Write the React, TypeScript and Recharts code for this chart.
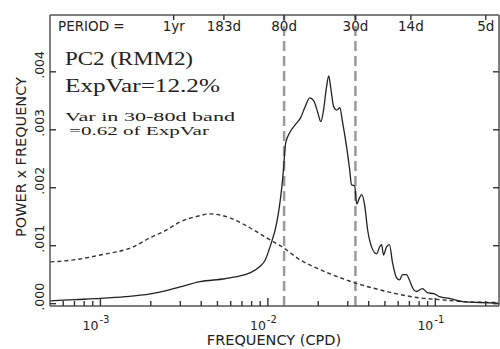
import React from 'react';
import { LineChart, Line, XAxis, YAxis, ReferenceLine } from 'recharts';

// PC2 spectrum (solid) and red-noise background (dashed), power x frequency
const pcFreq = [0.000503, 0.00071, 0.001, 0.00141, 0.00199, 0.00244, 0.00299, 0.00394, 0.00554, 0.00681, 0.00781, 0.00896, 0.00959, 0.0103, 0.0113, 0.0117, 0.01227, 0.01279, 0.0135, 0.01469, 0.0157, 0.0166, 0.0178, 0.0188, 0.0199, 0.0207, 0.0215, 0.0224, 0.0231, 0.0237, 0.0247, 0.0258, 0.0269, 0.0279, 0.0295, 0.0308, 0.0316, 0.033, 0.0339, 0.0353, 0.0363, 0.0378, 0.0394, 0.0416, 0.0446, 0.0465, 0.0478, 0.049, 0.0511, 0.0532, 0.0555, 0.0586, 0.0611, 0.0637, 0.0672, 0.07, 0.073, 0.0771, 0.0837, 0.0896, 0.0987, 0.106, 0.121, 0.149, 0.183, 0.237];
const pcPower = [0.00005, 0.00007, 0.00009, 0.00012, 0.00017, 0.00022, 0.00029, 0.00038, 0.00043, 0.00048, 0.00053, 0.00064, 0.00074, 0.00098, 0.0014, 0.00166, 0.00217, 0.00278, 0.00295, 0.0031, 0.00321, 0.00338, 0.00355, 0.0035, 0.00329, 0.00314, 0.00334, 0.00374, 0.00393, 0.00374, 0.0034, 0.00334, 0.00338, 0.00314, 0.00271, 0.00231, 0.00205, 0.00203, 0.00172, 0.00183, 0.00188, 0.00171, 0.00128, 0.00098, 0.00086, 0.00098, 0.00102, 0.00084, 0.00098, 0.00102, 0.00071, 0.00045, 0.00041, 0.0005, 0.0005, 0.00041, 0.00028, 0.00021, 0.00026, 0.00019, 0.00017, 0.00012, 0.00009, 0.00003, 0.00002, 0.00001];

const redFreq = [0.000503, 0.00071, 0.001, 0.00157, 0.00199, 0.00244, 0.00299, 0.00394, 0.00452, 0.00518, 0.00594, 0.00781, 0.0103, 0.0123, 0.0155, 0.0204, 0.0269, 0.033, 0.0465, 0.0611, 0.0804, 0.106, 0.159, 0.237];
const redPower = [0.00072, 0.00076, 0.00084, 0.00098, 0.00114, 0.00126, 0.00141, 0.00152, 0.00155, 0.00153, 0.00148, 0.00131, 0.0011, 0.00097, 0.00076, 0.00059, 0.00045, 0.00036, 0.00024, 0.00016, 0.0001, 0.00007, 0.00003, 0.00002];

const freqTicks = [0.0006, 0.0007, 0.0008, 0.0009, 0.001, 0.002, 0.003, 0.004, 0.005, 0.006, 0.007, 0.008, 0.009, 0.01, 0.02, 0.03, 0.04, 0.05, 0.06, 0.07, 0.08, 0.09, 0.1, 0.2];
const decadeTicks = [0.001, 0.01, 0.1];
const decadeExps = ['-3', '-2', '-1'];
const periodDays = [365, 183, 80, 30, 14, 5];
const periodLabels = ['1yr', '183d', '80d', '30d', '14d', '5d'];
const bandDays = [80, 30];
const powerTicks = [0, 0.001, 0.002, 0.003, 0.004];
const powerLabels = ['.000', '.001', '.002', '.003', '.004'];

const pcData = pcFreq.map((f, i) => ({ f, p: pcPower[i] }));
const redData = redFreq.map((f, i) => ({ f, p: redPower[i] }));
const periodTicks = periodDays.map((d) => 1 / d);

const FONT = '"DejaVu Sans", sans-serif';
const SERIF = '"Liberation Serif", "Times New Roman", serif';
const INK = '#222';
const FRAME = '#555';
const F_DOMAIN = [0.0005, 0.24];
const P_DOMAIN = [-0.00004, 0.00498];

const BottomTick = (props: any) => {
  const { x, y, payload } = props;
  const k = decadeTicks.findIndex((d) => Math.abs(d - payload.value) < 1e-9);
  return (
    <g>
      <line x1={x} y1={y} x2={x} y2={y - (k >= 0 ? 8 : 5)} stroke="#333" strokeWidth={1.4} />
      {k >= 0 && (
        <>
          <text x={x - 2} y={y + 24} textAnchor="end" fontSize={12.5} fontFamily={FONT} fill={INK}>10</text>
          <text x={x - 1} y={y + 17} textAnchor="start" fontSize={10} fontFamily={FONT} fill={INK}>{decadeExps[k]}</text>
        </>
      )}
    </g>
  );
};

const TopTick = (props: any) => {
  const { x, y, payload } = props;
  const k = periodTicks.findIndex((t) => Math.abs(t - payload.value) < 1e-9);
  return (
    <g>
      <line x1={x} y1={y} x2={x} y2={y + 5} stroke="#333" strokeWidth={1.4} />
      <text x={x} y={y + 16} textAnchor="middle" fontSize={13.5} fontFamily={FONT} fill={INK}>{k >= 0 ? periodLabels[k] : ''}</text>
    </g>
  );
};

const LeftTick = (props: any) => {
  const { x, y, payload } = props;
  const k = powerTicks.indexOf(payload.value);
  return (
    <g>
      <line x1={x} y1={y} x2={x + 6} y2={y} stroke="#333" strokeWidth={1.4} />
      <text x={x - 6} y={y + 7} transform={`rotate(-90, ${x - 6}, ${y + 7})`} textAnchor="start" fontSize={12.5} fontFamily={FONT} fill={INK}>{k >= 0 ? powerLabels[k] : ''}</text>
    </g>
  );
};

const RightTick = (props: any) => {
  const { x, y } = props;
  return <line x1={x} y1={y} x2={x - 6} y2={y} stroke="#333" strokeWidth={1.4} />;
};

export default function App() {
  return (
    <div style={{ position: 'absolute', left: 0, top: 0, width: 500, height: 349, background: '#fff' }}>
      <LineChart width={500} height={349} margin={{ top: 0, right: 0, bottom: 0, left: 0 }}>
        <XAxis
          xAxisId="f" dataKey="f" type="number" scale="log" domain={F_DOMAIN} allowDataOverflow
          ticks={freqTicks} interval={0} tick={BottomTick} tickSize={0} tickMargin={0} tickLine={false}
          height={43} axisLine={{ stroke: FRAME, strokeWidth: 1.5 }}
        />
        <XAxis
          xAxisId="period" dataKey="f" orientation="top" type="number" scale="log" domain={F_DOMAIN} allowDataOverflow
          ticks={periodTicks} interval={0} tick={TopTick} tickSize={0} tickMargin={0} tickLine={false}
          height={15} axisLine={{ stroke: FRAME, strokeWidth: 1.5 }}
        />
        <YAxis
          yAxisId="p" type="number" domain={P_DOMAIN} allowDataOverflow
          ticks={powerTicks} interval={0} tick={LeftTick} tickSize={0} tickMargin={0} tickLine={false}
          width={50} axisLine={{ stroke: FRAME, strokeWidth: 1.5 }}
        />
        <YAxis
          yAxisId="r" orientation="right" type="number" domain={P_DOMAIN} allowDataOverflow
          ticks={powerTicks} interval={0} tick={RightTick} tickSize={0} tickMargin={0} tickLine={false}
          width={1} axisLine={{ stroke: FRAME, strokeWidth: 1.5 }}
        />
        {bandDays.map((d) => (
          <ReferenceLine key={d} xAxisId="f" yAxisId="p" x={1 / d} stroke="#9a9a9a" strokeWidth={2.5} strokeDasharray="10 5" />
        ))}
        {/* invisible copy so the period axis and right axis get a domain */}
        <Line xAxisId="period" yAxisId="r" data={pcData} dataKey="p" stroke="none" dot={false} activeDot={false} legendType="none" isAnimationActive={false} />
        <Line xAxisId="f" yAxisId="p" data={redData} dataKey="p" type="monotone" stroke="#333" strokeWidth={1.4} strokeDasharray="4 3" dot={false} isAnimationActive={false} />
        <Line xAxisId="f" yAxisId="p" data={pcData} dataKey="p" type="monotone" stroke={INK} strokeWidth={1.3} dot={false} isAnimationActive={false} />
        <text x={58} y={31} fontSize={13.5} fontFamily={FONT} fill={INK}>PERIOD =</text>
        <text x={65} y={65} fontSize={19} fontFamily={SERIF} fill={INK} textLength={128} lengthAdjust="spacingAndGlyphs">PC2 (RMM2)</text>
        <text x={65} y={92} fontSize={19} fontFamily={SERIF} fill={INK} textLength={155} lengthAdjust="spacingAndGlyphs">ExpVar=12.2%</text>
        <text x={65} y={121} fontSize={13.5} fontFamily={SERIF} fill={INK} textLength={170} lengthAdjust="spacingAndGlyphs">Var in 30-80d band</text>
        <text x={69} y={135} fontSize={13.5} fontFamily={SERIF} fill={INK} textLength={140} lengthAdjust="spacingAndGlyphs">=0.62 of ExpVar</text>
        <text x={274} y={345} textAnchor="middle" fontSize={14.5} fontFamily={FONT} fill={INK}>FREQUENCY (CPD)</text>
        <text x={26} y={157} transform="rotate(-90, 26, 157)" textAnchor="middle" fontSize={14.5} fontFamily={FONT} fill={INK}>POWER x FREQUENCY</text>
      </LineChart>
    </div>
  );
}
